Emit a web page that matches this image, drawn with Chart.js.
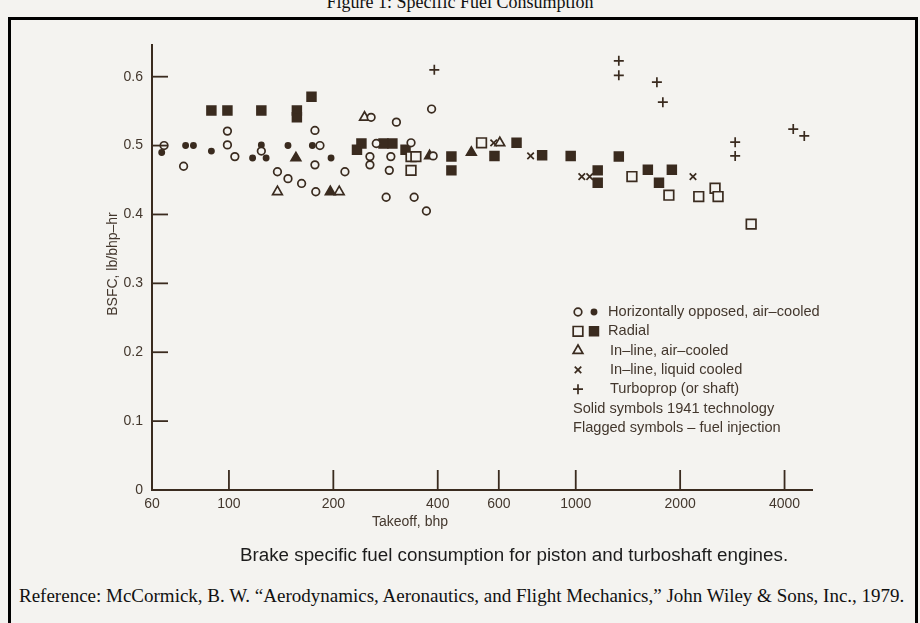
<!DOCTYPE html>
<html>
<head>
<meta charset="utf-8">
<script src="https://cdn.jsdelivr.net/npm/chart.js@4.4.1/dist/chart.umd.min.js"></script>
<style>
    html, body { margin: 0; padding: 0; width: 920px; height: 623px; overflow: hidden; background: #f4f3f0; }
    #title { position: absolute; left: 0; top: -8px; width: 920px; text-align: center; font: 18px "Liberation Serif", serif; color: #111; white-space: nowrap; }
    #frame { position: absolute; left: 8px; top: 17px; width: 910px; height: 640px; border: 3px solid #000; box-sizing: border-box; }
    #wrap { position: absolute; left: 0; top: 0; width: 920px; height: 545px; }
    #caption { position: absolute; left: 240px; top: 544px; font: 18.8px "Liberation Sans", Arial, sans-serif; color: #1c1c1c; white-space: nowrap; line-height: 22px; }
    #ref { position: absolute; left: 19px; top: 585px; font: 19px "Liberation Serif", serif; color: #111; white-space: nowrap; line-height: 22px; }
</style>
</head>
<body>
<div id="title">Figure 1: Specific Fuel Consumption</div>
<div id="frame"></div>
<div id="wrap"><canvas id="bsfcChart"></canvas></div>
<div id="caption">Brake specific fuel consumption for piston and turboshaft engines.</div>
<div id="ref">Reference: McCormick, B. W. “Aerodynamics, Aeronautics, and Flight Mechanics,” John Wiley &amp; Sons, Inc., 1979.</div>

<script>
// horizontally opposed, air-cooled (open = later, solid = 1941)
const hoOpenBhp = [65, 74, 99, 99, 104, 124, 138, 148, 162, 177, 183, 177, 178, 216, 257, 304, 384, 266, 255, 255, 293, 290, 335, 284, 342, 371, 388];
const hoOpenBsfc = [0.50, 0.47, 0.521, 0.501, 0.484, 0.492, 0.462, 0.452, 0.445, 0.522, 0.50, 0.472, 0.433, 0.462, 0.541, 0.534, 0.553, 0.503, 0.484, 0.472, 0.484, 0.464, 0.504, 0.425, 0.425, 0.405, 0.485];
const hoSolidBhp = [64, 75, 79, 89, 124, 117, 128, 148, 174, 197];
const hoSolidBsfc = [0.49, 0.50, 0.50, 0.492, 0.501, 0.482, 0.482, 0.50, 0.50, 0.482];

// radial
const radOpenBhp = [335, 346, 335, 535, 1452, 1856, 2263, 2522, 2573, 3205];
const radOpenBsfc = [0.484, 0.484, 0.464, 0.504, 0.455, 0.428, 0.426, 0.438, 0.426, 0.386];
const radSolidBhp = [89, 99, 124, 157, 157, 173, 241, 234, 279, 296, 323, 438, 438, 583, 675, 800, 967, 1331, 1157, 1157, 1614, 1893, 1738];
const radSolidBsfc = [0.551, 0.551, 0.551, 0.551, 0.541, 0.571, 0.503, 0.494, 0.503, 0.503, 0.494, 0.484, 0.464, 0.485, 0.504, 0.486, 0.485, 0.484, 0.464, 0.446, 0.465, 0.465, 0.446];

// in-line, air-cooled
const inAirOpenBhp = [138, 208, 246, 604];
const inAirOpenBsfc = [0.433, 0.433, 0.541, 0.504];
const inAirSolidBhp = [156, 196, 379, 500];
const inAirSolidBsfc = [0.482, 0.433, 0.485, 0.49];

// in-line, liquid cooled
const liquidBhp = [580, 741, 1041, 1097, 2178];
const liquidBsfc = [0.504, 0.485, 0.455, 0.455, 0.455];

// turboprop
const turboBhp = [391, 1331, 1331, 1714, 1783, 2882, 2882, 4238, 4560];
const turboBsfc = [0.610, 0.623, 0.602, 0.592, 0.563, 0.505, 0.485, 0.524, 0.514];

const xTicks = [60, 100, 200, 400, 600, 1000, 2000, 4000];
const yTicks = [0, 0.1, 0.2, 0.3, 0.4, 0.5, 0.6];

const legendRows = [
    { text: "Horizontally opposed, air–cooled", marks: ["circleOpen", "circleSolid"] },
    { text: "Radial", marks: ["rectOpen", "rectSolid"] },
    { text: "In–line, air–cooled", marks: ["triangleOpen"] },
    { text: "In–line, liquid cooled", marks: ["crossRot"] },
    { text: "Turboprop (or shaft)", marks: ["cross"] },
    { text: "Solid symbols 1941 technology", marks: [] },
    { text: "Flagged symbols – fuel injection", marks: [] },
];

const ink = "#3a2b1f";
const paper = "#f4f3f0";
const textInk = "#43372d";

function zip(xs, ys) {
    return xs.map((x, i) => ({ x: x, y: ys[i] }));
}

function series(label, xs, ys, style, radius, filled) {
    return {
        label: label,
        data: zip(xs, ys),
        pointStyle: style,
        pointRadius: radius,
        pointBorderWidth: 1.7,
        pointBorderColor: ink,
        pointBackgroundColor: filled ? ink : paper,
        showLine: false,
    };
}

function drawMark(ctx, kind, x, y) {
    const map = {
        circleOpen: ["circle", 3.8, false],
        circleSolid: ["circle", 2.6, true],
        rectOpen: ["rect", 6.8, false],
        rectSolid: ["rect", 6.2, true],
        triangleOpen: ["triangle", 5.6, false],
        crossRot: ["crossRot", 4.6, false],
        cross: ["cross", 5, false],
    };
    const m = map[kind];
    ctx.save();
    ctx.strokeStyle = ink;
    ctx.fillStyle = m[2] ? ink : paper;
    ctx.lineWidth = 1.7;
    Chart.helpers.drawPoint(ctx, { pointStyle: m[0], radius: m[1], rotation: 0, borderWidth: 1.7 }, x, y);
    ctx.restore();
}

const decorPlugin = {
    id: "decor",
    afterDraw(chart) {
        const ctx = chart.ctx;
        const xs = chart.scales.x;
        const ys = chart.scales.y;
        const area = chart.chartArea;
        ctx.save();
        ctx.strokeStyle = ink;
        ctx.lineWidth = 1.8;
        // inward tick marks
        yTicks.slice(1).forEach(v => {
            const py = ys.getPixelForValue(v);
            ctx.beginPath();
            ctx.moveTo(area.left, py);
            ctx.lineTo(area.left + 16, py);
            ctx.stroke();
        });
        xTicks.slice(1).forEach(v => {
            const px = xs.getPixelForValue(v);
            ctx.beginPath();
            ctx.moveTo(px, area.bottom);
            ctx.lineTo(px, area.bottom - 20);
            ctx.stroke();
        });
        // axis titles
        ctx.fillStyle = textInk;
        ctx.font = "14px 'Liberation Sans', Arial, sans-serif";
        ctx.textAlign = "center";
        ctx.textBaseline = "middle";
        ctx.fillText("Takeoff, bhp", 410, 522);
        ctx.save();
        ctx.translate(113, 264);
        ctx.rotate(-Math.PI / 2);
        ctx.font = "14px 'Liberation Sans', Arial, sans-serif";
        ctx.fillText("BSFC, lb/bhp–hr", 0, 0);
        ctx.restore();
        // legend
        ctx.font = "14.6px 'Liberation Sans', Arial, sans-serif";
        ctx.textAlign = "left";
        legendRows.forEach((row, i) => {
            const ry = 312 + i * 19.3;
            row.marks.forEach((m, j) => drawMark(ctx, m, 578 + j * 16, ry));
            const tx = row.marks.length === 0 ? 573 : (row.marks.length === 2 ? 608 : 610);
            ctx.fillText(row.text, tx, ry);
        });
        ctx.restore();
    },
};

new Chart(document.getElementById("bsfcChart"), {
    type: "scatter",
    data: {
        datasets: [
            series("Horizontally opposed", hoOpenBhp, hoOpenBsfc, "circle", 3.8, false),
            series("Horizontally opposed 1941", hoSolidBhp, hoSolidBsfc, "circle", 2.6, true),
            series("Radial", radOpenBhp, radOpenBsfc, "rect", 6.8, false),
            series("Radial 1941", radSolidBhp, radSolidBsfc, "rect", 6.2, true),
            series("In-line, air-cooled", inAirOpenBhp, inAirOpenBsfc, "triangle", 5.6, false),
            series("In-line, air-cooled 1941", inAirSolidBhp, inAirSolidBsfc, "triangle", 5.6, true),
            series("In-line, liquid cooled", liquidBhp, liquidBsfc, "crossRot", 4.6, false),
            series("Turboprop", turboBhp, turboBsfc, "cross", 5, false),
        ],
    },
    options: {
        responsive: true,
        maintainAspectRatio: false,
        animation: false,
        layout: { padding: { left: 0, top: 45, right: 108, bottom: 0 } },
        plugins: { legend: { display: false }, tooltip: { enabled: false } },
        scales: {
            x: {
                type: "logarithmic",
                min: 60,
                max: 4800,
                grid: { display: false, drawTicks: false },
                border: { display: true, color: ink, width: 2 },
                afterBuildTicks: scale => { scale.ticks = xTicks.map(v => ({ value: v })); },
                afterFit: scale => { scale.height = 55; },
                ticks: {
                    color: textInk,
                    font: { family: "'Liberation Sans', Arial, sans-serif", size: 14 },
                    padding: 6,
                    maxRotation: 0,
                    autoSkip: false,
                    callback: v => String(v),
                },
            },
            y: {
                min: 0,
                max: 0.646,
                grid: { display: false, drawTicks: false },
                border: { display: true, color: ink, width: 2 },
                afterBuildTicks: scale => { scale.ticks = yTicks.map(v => ({ value: v })); },
                afterFit: scale => { scale.width = 152; },
                ticks: {
                    color: textInk,
                    font: { family: "'Liberation Sans', Arial, sans-serif", size: 14 },
                    padding: 9,
                    callback: v => (v === 0 ? "0" : v.toFixed(1)),
                },
            },
        },
    },
    plugins: [decorPlugin],
});
</script>
</body>
</html>
